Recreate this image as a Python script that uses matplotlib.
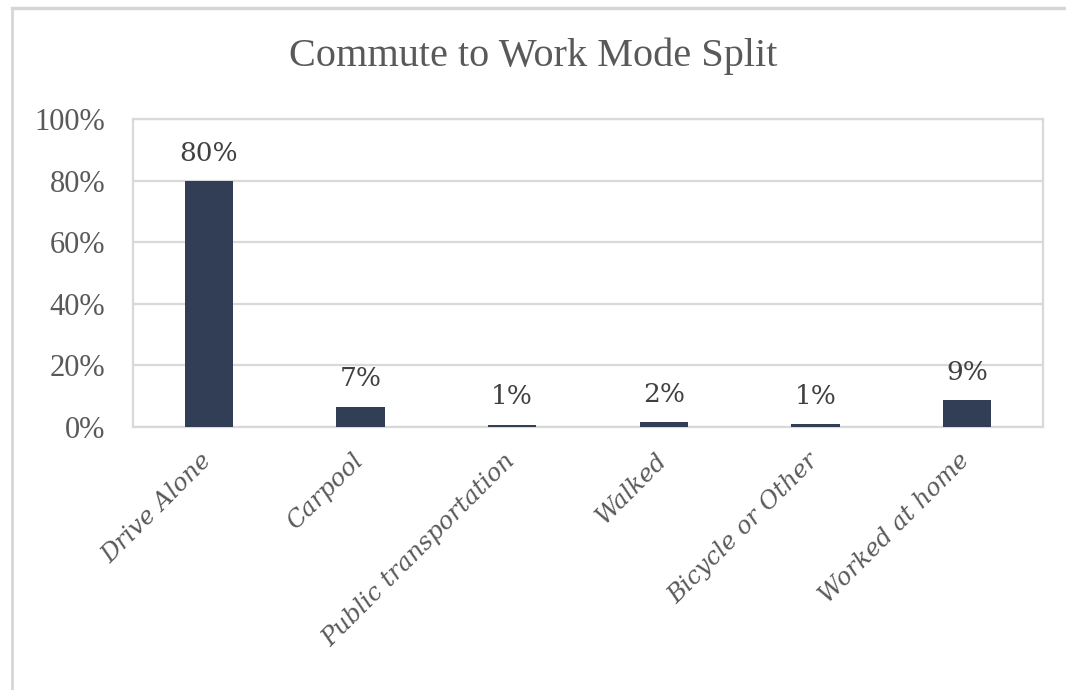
import matplotlib.pyplot as plt
import matplotlib.transforms as mtransforms
from matplotlib.lines import Line2D

modes = ['Drive Alone', 'Carpool', 'Public transportation', 'Walked',
         'Bicycle or Other', 'Worked at home']
share = [79.8, 6.6, 0.8, 1.6, 0.9, 8.6]
yticks = [0, 20, 40, 60, 80, 100]

bar_color = '#323e55'
text_color = '#595959'
grid_color = '#d9d9d9'

fig = plt.figure(figsize=(10.66, 6.9), dpi=100)
ax = fig.add_axes([0.1248, 0.3812, 0.8536, 0.4463])

# chart frame (left and top edges only show)
fig.add_artist(Line2D([12 / 1066, 12 / 1066], [0, 1 - 8 / 690],
                      color='#d6d6d6', lw=2))
fig.add_artist(Line2D([12 / 1066, 1], [1 - 8 / 690, 1 - 8 / 690],
                      color='#d6d6d6', lw=2.5))

x = range(len(modes))
bars = ax.bar(x, share, width=0.32, color=bar_color, zorder=3)
ax.bar_label(bars, labels=['%.0f%%' % v for v in share], padding=11,
             fontsize=19, color='#404040', family='DejaVu Serif')

ax.set_xlim(-0.5, len(modes) - 0.5)
ax.set_ylim(0, 100)
ax.set_yticks(yticks)
ax.set_yticklabels(['%d%%' % t for t in yticks], family='Liberation Serif',
                   fontsize=22, color=text_color)
ax.set_xticks(list(x))
ax.set_xticklabels(modes, rotation=45, ha='right', va='top',
                   rotation_mode='anchor', family='DejaVu Serif',
                   style='italic', fontsize=17.5, color=text_color)
ax.tick_params(axis='y', length=0, pad=20)
ax.tick_params(axis='x', length=0, pad=16)

# nudge the slanted category names a little to the left
shift = mtransforms.ScaledTranslation(-9 / 100, 0, fig.dpi_scale_trans)
for lbl in ax.get_xticklabels():
    lbl.set_transform(lbl.get_transform() + shift)

ax.grid(axis='y', color=grid_color, lw=1.6, zorder=0)
for s in ax.spines.values():
    s.set_color(grid_color)
    s.set_linewidth(1.6)

fig.text(0.5, 1 - 56 / 690, 'Commute to Work Mode Split', ha='center',
         va='center', fontsize=29, color=text_color, family='Liberation Serif')

fig.savefig('out.png', dpi=100)
